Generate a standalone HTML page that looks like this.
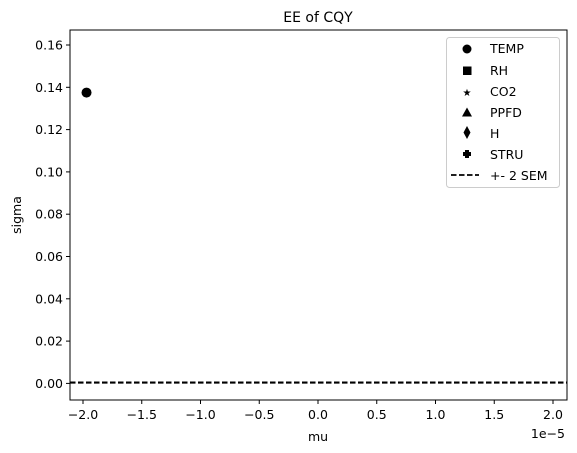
<!DOCTYPE html>
<html><head><meta charset="utf-8"><style>
body{margin:0;background:#fff}
svg{display:block;font-family:"DejaVu Sans","Liberation Sans",sans-serif}
</style></head><body>
<svg id="chart" width="577" height="453" viewBox="0 0 577 453" xmlns="http://www.w3.org/2000/svg">
<rect width="577" height="453" fill="#fff"/>
<text x="318" y="22" font-size="14" text-anchor="middle">EE of CQY</text>
<g id="plot"></g>
<rect x="70" y="30" width="497" height="370" fill="none" stroke="#000" stroke-width="1"/>
<text x="318" y="441" font-size="12.5" text-anchor="middle">mu</text>
<text x="565" y="438" font-size="12.5" text-anchor="end">1e−5</text>
<text transform="translate(21,215) rotate(-90)" font-size="12.5" text-anchor="middle">sigma</text>
<g>
<rect x="446.5" y="37.5" width="113" height="150" rx="3" fill="#fff" fill-opacity="0.8" stroke="#ccc"/>
<circle cx="467" cy="49" r="4.5" fill="#000"/>
<text x="490" y="53" font-size="12.5">TEMP</text>
<rect x="463" y="66.5" width="8.5" height="8.5" fill="#000"/>
<text x="490" y="75" font-size="12.5">RH</text>
<text x="467" y="96" font-size="10" text-anchor="middle">★</text>
<text x="490" y="96" font-size="12.5">CO2</text>
<polygon points="467,107.5 472,116.5 462,116.5" fill="#000"/>
<text x="490" y="117" font-size="12.5">PPFD</text>
<polygon points="467,126 470.5,132.5 467,139 463.5,132.5" fill="#000"/>
<text x="490" y="138" font-size="12.5">H</text>
<path d="M463,152h8v4h-8z M465,150h4v8h-4z" fill="#000"/>
<text x="490" y="159" font-size="12.5">STRU</text>
<line x1="451" y1="175" x2="479" y2="175" stroke="#000" stroke-width="1.8" stroke-dasharray="5.5,2.5"/>
<text x="490" y="180" font-size="12.5">+- 2 SEM</text>
</g>
</svg>
<script>
const xTicks=[-2.0,-1.5,-1.0,-0.5,0.0,0.5,1.0,1.5,2.0];
const yTicks=[0.00,0.02,0.04,0.06,0.08,0.10,0.12,0.14,0.16];
const pointNames=["TEMP"];
const pointMu=[-1.97];
const pointSigma=[0.1375];
const semUpper=[0.0005];
const semLower=[0.0003];
const X0=318,XS=117.5,Y0=383.4,YS=2115;
function sx(v){return X0+v*XS;}
function sy(v){return Y0-v*YS;}
const NS="http://www.w3.org/2000/svg";
const g=document.getElementById('plot');
function mk(t,a){const e=document.createElementNS(NS,t);for(const k in a)e.setAttribute(k,a[k]);g.appendChild(e);return e;}
xTicks.forEach(v=>{
 const x=sx(v);
 const l=mk('line',{x1:x,x2:x,y1:400,y2:404,stroke:'#000'});
 
 
 const t=mk('text',{x:x,y:419,'font-size':12.5,'text-anchor':'middle'});
 t.textContent=(v<0?'−':'')+Math.abs(v).toFixed(1);
 
 
});
yTicks.forEach(v=>{
 const y=sy(v);
 const l=mk('line',{x1:66,x2:70,y1:y,y2:y,stroke:'#000'});
 
 
 const t=mk('text',{x:63,y:y+4.5,'font-size':12.5,'text-anchor':'end'});
 t.textContent=v.toFixed(2);
 
 
});
semUpper.concat(semLower).forEach(v=>{
 const l=mk('line',{x1:70,x2:567,y1:sy(v),y2:sy(v),stroke:'#000','stroke-width':1.8,'stroke-dasharray':'5.5,2.5'});
 
 
});
pointMu.forEach((m,i)=>{
 const c=mk('circle',{cx:sx(m),cy:sy(pointSigma[i]),r:5,fill:'#000'});
 
 
});
</script>
</body></html>
